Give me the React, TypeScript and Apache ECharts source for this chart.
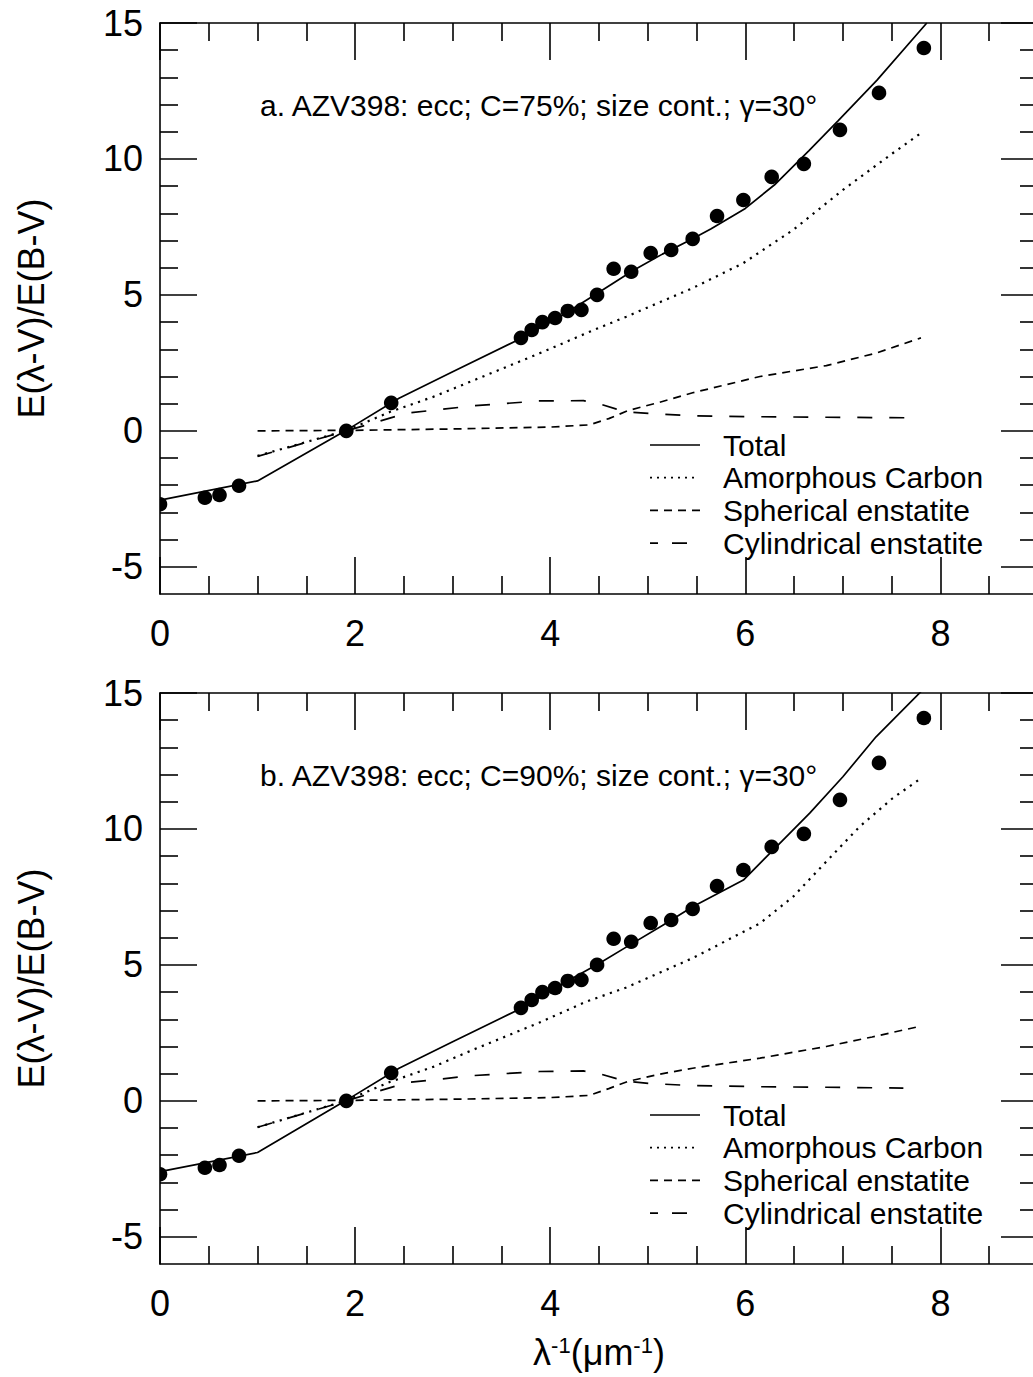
import React, { useEffect, useRef } from "react";
import * as echarts from "echarts";

// ---------- data ----------
const xMajor = [0, 2, 4, 6, 8];
const xMinor = [0.5, 1, 1.5, 2.5, 3, 3.5, 4.5, 5, 5.5, 6.5, 7, 7.5, 8.5];
const yMajor = [-5, 0, 5, 10, 15];
const yMinor = [-4, -3, -2, -1, 1, 2, 3, 4, 6, 7, 8, 9, 11, 12, 13, 14];

// observed extinction (same in both panels)
const obsX = [0.0, 0.46, 0.61, 0.81, 1.91, 2.37, 3.7, 3.81, 3.92, 4.05, 4.18, 4.32, 4.48, 4.65, 4.83, 5.03, 5.24, 5.46, 5.71, 5.98, 6.27, 6.6, 6.97, 7.37, 7.83];
const obsY = [-2.7, -2.46, -2.36, -2.02, 0.0, 1.03, 3.42, 3.71, 4.0, 4.15, 4.41, 4.45, 5.0, 5.96, 5.85, 6.54, 6.65, 7.06, 7.9, 8.49, 9.34, 9.82, 11.07, 12.43, 14.08];

// panel a (C=75%)
const totalAX = [0, 1.0, 1.9, 2.45, 3.0, 3.7, 4.1, 4.5, 4.85, 5.15, 5.45, 5.65, 6.0, 6.3, 6.65, 6.95, 7.35, 7.86];
const totalAY = [-2.55, -1.84, 0.0, 1.2, 2.17, 3.4, 4.2, 5.1, 5.9, 6.5, 7.05, 7.43, 8.18, 9.05, 10.3, 11.4, 12.9, 15.0];
const carbonAX = [1.0, 1.9, 2.36, 2.8, 3.21, 3.89, 4.44, 4.78, 5.46, 5.98, 6.49, 7.0, 7.51, 7.8];
const carbonAY = [-0.92, 0.0, 0.7, 1.25, 1.85, 2.85, 3.7, 4.2, 5.25, 6.17, 7.39, 8.86, 10.21, 10.95];
const spherAX = [1.0, 2.0, 3.0, 4.0, 4.4, 4.6, 4.8, 5.12, 5.46, 6.15, 6.83, 7.34, 7.8];
const spherAY = [0.0, 0.02, 0.07, 0.14, 0.22, 0.45, 0.75, 1.05, 1.4, 2.0, 2.4, 2.86, 3.42];
const cylAX = [1.0, 1.91, 2.53, 3.21, 3.89, 4.34, 4.5, 4.68, 4.85, 5.02, 5.46, 6.15, 6.83, 7.68];
const cylAY = [-0.94, 0.0, 0.65, 0.92, 1.1, 1.11, 1.0, 0.8, 0.68, 0.64, 0.55, 0.52, 0.5, 0.48];

// panel b (C=90%)
const totalBX = [0, 1.0, 1.9, 2.45, 3.0, 3.7, 4.2, 4.5, 4.8, 5.15, 5.46, 5.98, 6.32, 6.66, 7.0, 7.34, 7.8];
const totalBY = [-2.6, -1.9, 0.0, 1.2, 2.17, 3.4, 4.45, 5.05, 5.7, 6.45, 7.14, 8.12, 9.35, 10.58, 11.92, 13.39, 15.05];
const carbonBX = [1.0, 1.9, 2.36, 2.8, 3.21, 3.89, 4.37, 4.78, 5.46, 6.15, 6.49, 6.83, 7.17, 7.51, 7.8];
const carbonBY = [-0.97, 0.0, 0.7, 1.25, 1.88, 2.88, 3.65, 4.17, 5.25, 6.53, 7.51, 8.8, 10.08, 11.13, 11.86];
const spherBX = [1.0, 2.0, 3.0, 4.0, 4.4, 4.6, 4.8, 5.12, 5.46, 6.15, 6.83, 7.3, 7.8];
const spherBY = [0.0, 0.02, 0.06, 0.12, 0.2, 0.45, 0.72, 0.98, 1.2, 1.57, 2.0, 2.35, 2.75];
const cylBX = [1.0, 1.91, 2.53, 3.21, 3.89, 4.34, 4.5, 4.68, 4.85, 5.02, 5.46, 6.15, 6.83, 7.62];
const cylBY = [-0.97, 0.0, 0.67, 0.93, 1.08, 1.1, 1.0, 0.82, 0.7, 0.64, 0.56, 0.52, 0.5, 0.47];

const seriesNames = ["Total", "Amorphous Carbon", "Spherical enstatite", "Cylindrical enstatite"];
const panelTitles = [
  "a. AZV398: ecc; C=75%; size cont.; γ=30°",
  "b. AZV398: ecc; C=90%; size cont.; γ=30°",
];
const yTitle = "E(λ-V)/E(B-V)";
const xTitle = "λ{sup|-1}(μm{sup|-1})";

// ---------- styles ----------
const FONT = "'Liberation Sans', Arial, Helvetica, sans-serif";
const BLACK = "#000";
const GRID_LEFT = 160;
const GRID_W = 878;
const GRID_H = 571;
const GRID_TOPS = [23, 693];
const LINE_W = 1.6;

const dashStyles: any[] = [
  { type: "solid", width: 1.7 },
  { type: [2.2, 5.5], width: 2.2 },
  { type: [8, 6], width: 1.7 },
  { type: [15, 17], width: 1.7 },
];

const zip = (xs: number[], ys: number[]) => xs.map((x, i) => [x, ys[i]]);

function makeXAxes(gi: number) {
  const base: any = {
    type: "value",
    gridIndex: gi,
    min: 0,
    max: 9,
    splitLine: { show: false },
    axisLabel: { show: false },
    axisLine: { show: false, onZero: false },
    axisTick: { show: false },
  };
  const line = { show: true, onZero: false, lineStyle: { color: BLACK, width: LINE_W } };
  const major = { show: true, inside: true, length: 37, customValues: xMajor, lineStyle: { color: BLACK, width: LINE_W } };
  const minor = { show: true, inside: true, length: 18, customValues: xMinor, lineStyle: { color: BLACK, width: LINE_W } };
  const bottomMajor: any = {
    ...base,
    position: "bottom",
    axisLine: line,
    axisTick: major,
    axisLabel: { show: true, customValues: xMajor, margin: 21, fontSize: 36, color: BLACK, fontFamily: FONT },
  };
  if (gi === 1) {
    bottomMajor.name = xTitle;
    bottomMajor.nameLocation = "middle";
    bottomMajor.nameGap = 70;
    bottomMajor.nameTextStyle = {
      fontSize: 36,
      color: BLACK,
      fontFamily: FONT,
      rich: { sup: { fontSize: 22, verticalAlign: "top", color: BLACK, fontFamily: FONT } },
    };
  }
  return [
    bottomMajor,
    { ...base, position: "bottom", axisTick: minor },
    { ...base, position: "top", axisLine: line, axisTick: major },
    { ...base, position: "top", axisTick: minor },
  ];
}

function makeYAxes(gi: number) {
  const base: any = {
    type: "value",
    gridIndex: gi,
    min: -6,
    max: 15,
    splitLine: { show: false },
    axisLabel: { show: false },
    axisLine: { show: false, onZero: false },
    axisTick: { show: false },
  };
  const line = { show: true, onZero: false, lineStyle: { color: BLACK, width: LINE_W } };
  const major = { show: true, inside: true, length: 37, customValues: yMajor, lineStyle: { color: BLACK, width: LINE_W } };
  const minor = { show: true, inside: true, length: 18, customValues: yMinor, lineStyle: { color: BLACK, width: LINE_W } };
  return [
    {
      ...base,
      position: "left",
      axisLine: line,
      axisTick: major,
      axisLabel: { show: true, customValues: yMajor, margin: 17, fontSize: 36, color: BLACK, fontFamily: FONT },
      name: yTitle,
      nameLocation: "middle",
      nameRotate: 90,
      nameGap: 111,
      nameTextStyle: { fontSize: 36, color: BLACK, fontFamily: FONT },
    },
    { ...base, position: "left", axisTick: minor },
    { ...base, position: "right", axisLine: line, axisTick: major },
    { ...base, position: "right", axisTick: minor },
  ];
}

function makeSeries(gi: number) {
  const curves =
    gi === 0
      ? [zip(totalAX, totalAY), zip(carbonAX, carbonAY), zip(spherAX, spherAY), zip(cylAX, cylAY)]
      : [zip(totalBX, totalBY), zip(carbonBX, carbonBY), zip(spherBX, spherBY), zip(cylBX, cylBY)];
  const lines = curves.map((data, k) => ({
    type: "line",
    name: seriesNames[k],
    xAxisIndex: gi * 4,
    yAxisIndex: gi * 4,
    data,
    symbol: "none",
    showSymbol: false,
    silent: true,
    clip: true,
    z: 2,
    lineStyle: { color: BLACK, width: dashStyles[k].width, type: dashStyles[k].type, cap: "butt" },
  }));
  const dots = {
    type: "custom",
    name: "Observed",
    xAxisIndex: gi * 4,
    yAxisIndex: gi * 4,
    data: zip(obsX, obsY),
    clip: true,
    silent: true,
    z: 3,
    encode: { x: 0, y: 1 },
    renderItem: (_params: any, api: any) => {
      const p = api.coord([api.value(0), api.value(1)]);
      return { type: "circle", shape: { cx: p[0], cy: p[1], r: 7.3 }, style: { fill: BLACK } };
    },
  };
  return [...lines, dots];
}

function makeGraphics(gi: number) {
  const top = GRID_TOPS[gi];
  const els: any[] = [];
  els.push({
    type: "text",
    x: 260,
    y: top + 82,
    silent: true,
    style: { text: panelTitles[gi], fontSize: 30, fontFamily: FONT, fill: BLACK, align: "left", verticalAlign: "middle" },
  });
  const sampleDash: any[] = [
    { x2: 700, dash: null, offset: 0, w: 1.6 },
    { x2: 696, dash: [2, 5], offset: 0, w: 1.8 },
    { x2: 700, dash: [8, 6], offset: 0, w: 1.6 },
    { x2: 692, dash: [15, 14], offset: 7, w: 1.6 },
  ];
  seriesNames.forEach((name, k) => {
    const y = top + 422 + k * 32.7;
    const sd = sampleDash[k];
    els.push({
      type: "line",
      silent: true,
      shape: { x1: 650, y1: y, x2: sd.x2, y2: y },
      style: { stroke: BLACK, lineWidth: sd.w, lineDash: sd.dash, lineDashOffset: sd.offset },
    });
    els.push({
      type: "text",
      x: 723,
      y,
      silent: true,
      style: { text: name, fontSize: 30, fontFamily: FONT, fill: BLACK, align: "left", verticalAlign: "middle" },
    });
  });
  return els;
}

export default function App() {
  const ref = useRef<HTMLDivElement>(null);
  useEffect(() => {
    if (!ref.current) return;
    const chart = echarts.init(ref.current, undefined, { renderer: "svg" });
    const option: any = {
      animation: false,
      backgroundColor: "#fff",
      textStyle: { fontFamily: FONT },
      grid: GRID_TOPS.map((t) => ({
        left: GRID_LEFT,
        top: t,
        width: GRID_W,
        height: GRID_H,
        containLabel: false,
        outerBoundsMode: "none",
      })),
      xAxis: [...makeXAxes(0), ...makeXAxes(1)],
      yAxis: [...makeYAxes(0), ...makeYAxes(1)],
      series: [...makeSeries(0), ...makeSeries(1)],
      graphic: [...makeGraphics(0), ...makeGraphics(1)],
    };
    chart.setOption(option);
    return () => chart.dispose();
  }, []);
  return (
    <div
      ref={ref}
      style={{ position: "absolute", left: 0, top: 0, width: 1033, height: 1377, background: "#fff" }}
    />
  );
}
